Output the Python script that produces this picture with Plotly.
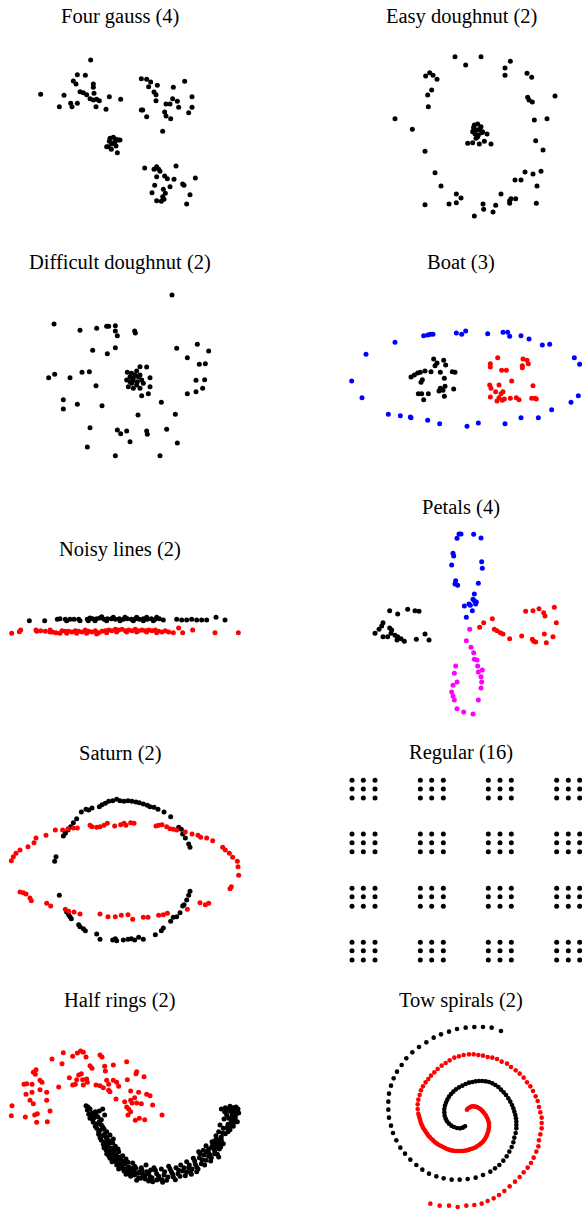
import plotly.graph_objects as go

W, H = 582, 1213

# ---------------- data (local panel units) ----------------
four_gauss = [
    (272,180),(232,224),(256,226),(220,243),(228,252),(280,252),(280,262),(122,283),(192,286),(240,275),
    (250,278),(260,284),(282,280),(270,296),(280,300),(290,298),(298,302),(328,290),(362,298),(178,320),
    (212,310),(216,320),(232,310),(288,320),(318,328),
    (424,236),(440,238),(452,246),(446,260),(472,256),(554,244),(520,262),(462,276),(468,284),(468,302),
    (576,290),(518,296),(532,304),(498,312),(510,312),(536,322),(576,322),(424,330),(428,330),(440,350),
    (494,336),(498,348),(512,356),(566,338),(488,394),
    (330,415),(340,412),(345,425),(335,432),(325,440),(348,438),(356,420),(360,420),(320,440),(352,458),
    (334,448),(342,428),(328,424),(348,418),
    (434,504),(462,508),(470,500),(476,508),(480,514),(528,498),(470,530),(494,528),(502,536),(522,538),
    (586,534),(464,556),(510,560),(548,552),(552,556),(456,578),(490,568),(496,580),(488,590),(470,602),
    (484,604),(492,598),(570,584),(560,612),
]

easy_doughnut = [
    (492,170),(570,170),(524,195),(658,184),(642,204),(642,226),(708,220),(722,232),(404,228),(416,218),
    (426,226),(438,238),(422,270),(410,285),(792,288),(710,292),(714,300),(724,306),(412,320),(312,356),
    (364,388),(730,360),(768,356),(402,454),(734,422),(756,450),(432,518),(702,516),(726,522),(750,514),
    (672,540),(690,540),(450,558),(738,558),(496,582),(510,594),(496,608),(474,612),(402,614),(630,582),
    (656,602),(660,596),(674,596),(656,610),(576,612),(614,616),(578,628),(606,636),(550,648),(736,610),
    (550,375),(560,372),(570,380),(548,390),(558,390),(566,388),(575,395),(552,402),(562,405),(588,402),
    (530,430),(545,428),(565,432),(580,424),(600,432),(555,415),(548,382),(572,398),(545,395),(560,410),
]

difficult_doughnut = [
    (516,150),(162,237),(240,256),(290,250),(320,244),(326,244),(346,242),(346,258),(352,272),(404,258),
    (406,264),(278,316),(322,326),(346,308),(530,310),(592,298),(626,318),(562,338),(598,358),(616,356),
    (146,398),(164,388),(210,398),(246,382),(268,380),(288,422),(588,406),(614,404),(562,446),(588,440),
    (608,430),(190,464),(190,492),(232,478),(306,482),(484,472),(414,510),(526,508),(270,548),(352,555),
    (362,566),(380,558),(440,558),(442,568),(500,553),(390,590),(262,606),(532,594),(346,632),(480,632),
    (382,382),(395,385),(410,378),(420,365),(440,366),(390,395),(400,400),(415,395),(425,405),(450,398),
    (380,405),(395,415),(410,420),(430,415),(450,425),(385,425),(400,430),(420,430),(425,452),(445,446),
    (405,390),(398,408),(412,410),(390,410),(420,390),
]

boat_blue = [
    (312,292),(225,328),(182,408),(213,458),(398,272),(410,270),(418,268),(426,268),(496,264),(512,268),
    (524,258),(590,266),(636,262),(650,262),(656,274),(690,272),(714,282),(754,300),(776,298),(850,338),
    (866,358),(862,452),(840,472),(782,494),(742,518),(690,518),(642,536),(562,534),(528,544),(446,536),
    (410,526),(360,518),(358,516),(328,512),(292,508),
]
boat_black = [
    (428,342),(458,346),(438,354),(432,362),(464,360),(420,380),(402,378),(360,396),(370,390),(380,384),
    (388,382),(394,404),(390,412),(448,382),(460,400),(484,380),(492,382),(382,446),(392,446),(412,446),
    (398,464),(444,438),(448,430),(462,424),(456,436),(460,454),(488,432),
]
boat_red = [
    (620,338),(598,356),(598,366),(696,342),(708,346),(712,356),(694,362),(694,368),(632,376),(646,376),
    (662,408),(596,420),(600,430),(624,420),(614,440),(630,446),(636,440),(624,458),(634,466),(640,462),
    (598,456),(618,468),(658,460),(676,458),(684,464),(726,422),(722,460),(732,460),(736,462),
]

noisy_black = [
    (88,272),(134,272),(172,268),(180,266),(196,268),(210,268),(222,268),(236,268),(262,268),(270,264),
    (278,266),(290,266),(300,264),(312,268),(322,266),(334,266),(346,268),(358,266),(370,268),(382,266),
    (394,268),(406,266),(418,268),(430,266),(442,268),(454,266),(466,268),(478,266),(490,270),(530,268),
    (545,270),(560,270),(575,268),(590,270),(605,270),(620,270),(648,262),(675,270),
    (265,272),(285,272),(305,260),(340,262),(375,262),(410,262),(440,262),(470,262),(200,272),(240,272),
    (320,272),(360,272),(400,272),(430,272),(460,272),
]
noisy_red = [
    (35,310),(58,305),(62,300),(108,300),(122,302),(136,304),(150,306),(158,306),(168,308),(186,302),
    (196,304),(206,304),(216,306),(226,302),(236,304),(246,306),(256,300),(266,304),(276,306),(286,302),
    (296,308),(306,304),(316,302),(326,300),(336,302),(346,298),(356,300),(366,298),(376,302),(386,300),
    (396,302),(406,298),(416,302),(426,300),(436,302),(446,300),(456,302),(466,300),(476,304),(486,306),
    (496,302),(506,306),(520,308),(536,294),(548,308),(578,300),(645,308),(715,308),
    (200,310),(230,310),(260,310),(290,312),(320,308),(350,306),(380,306),(410,306),(440,306),(470,308),
    (150,300),(180,310),(110,304),
]

petals_blue = [
    (498,145),(504,132),(510,132),(548,133),(570,144),(486,190),(488,198),(482,225),(572,215),(574,235),
    (494,272),(492,282),(500,286),(562,280),(550,312),(546,328),(550,332),(534,342),(554,342),(520,348),
    (538,346),(544,362),(526,382),(556,336),
]
petals_black = [
    (296,362),(320,372),(350,358),(372,362),(384,364),(276,398),(272,408),(264,418),(252,430),(296,414),
    (300,430),(312,436),(276,440),(290,440),(318,450),(330,446),(340,454),(376,448),(402,432),(414,450),
    (302,420),(320,440),
]
petals_red = [
    (704,364),(726,362),(744,356),(758,368),(762,378),(790,352),(796,398),(604,386),(578,398),(566,412),
    (610,418),(618,422),(628,428),(636,432),(656,446),(692,438),(724,448),(728,454),(734,456),(760,432),
    (786,440),(766,458),
]
petals_magenta = [
    (536,418),(526,452),(540,472),(548,488),(550,508),(558,510),(560,528),(562,546),(574,540),(570,560),
    (572,576),(570,594),(562,630),(494,528),(490,550),(498,576),(486,586),(482,606),(486,618),(490,630),
    (498,656),(518,666),(546,672),
]

saturn_black = [
    (190,378),(196,370),(204,360),(212,350),(220,338),(230,326),(244,306),(258,298),(266,300),(276,294),
    (298,290),(306,284),(316,280),(326,274),(338,272),(350,268),(360,272),(372,274),(384,272),(396,274),
    (408,276),(418,278),(430,282),(442,286),(450,290),(462,292),(474,298),(492,306),(512,320),(536,352),
    (544,358),(548,372),(556,384),(566,402),(570,412),
    (168,440),(164,454),(178,556),
    (570,544),(566,556),(560,570),(552,584),(548,588),
    (200,606),(206,614),(210,620),(214,626),(236,644),(240,650),(250,656),(256,662),(290,672),(300,688),
    (338,690),(346,686),(350,692),(370,690),(384,688),(394,686),(404,690),(416,682),(430,688),(466,674),
    (484,662),(490,654),(512,634),(520,622),(530,620),(540,608),
]
saturn_red = [
    (166,360),(188,360),(204,356),(220,354),(232,354),(270,346),(276,350),(290,352),(300,350),(312,346),
    (322,340),(344,348),(362,344),(372,340),(378,346),(392,338),(402,340),(468,348),(476,346),(486,344),
    (500,350),(510,356),(520,358),(530,360),(556,366),(576,372),(594,376),(602,382),(620,384),(638,392),
    (668,412),(676,420),(688,430),(698,442),(712,454),(714,470),(716,496),(694,530),(690,536),
    (138,376),(108,384),(102,398),(84,410),(60,420),(48,430),(40,440),(34,452),
    (60,546),(70,548),(78,552),(90,564),(94,572),(140,580),(152,588),(196,598),(206,604),(222,606),
    (240,612),(300,612),(324,620),(346,620),(364,616),(384,614),(398,628),(430,622),(444,622),(476,616),
    (490,614),(502,610),(562,598),(600,578),(616,584),(626,580),
]

regular_cols = [183, 217, 252, 388, 422, 457, 592, 627, 661, 797, 832, 866]
regular_rows = [211, 237, 264, 372, 398, 425, 535, 560, 589, 697, 722, 750]

half_rings_red = [
    (156,222),(190,203),(218,214),(232,204),(242,198),(250,202),(258,216),(300,210),(306,216),(186,236),
    (314,244),(340,240),(380,230),(108,254),(100,262),(106,268),(270,242),(276,250),(316,258),(410,260),
    (408,266),(432,275),(208,278),(236,270),(244,266),(230,284),(248,284),(260,282),(262,292),(226,298),
    (250,300),(80,296),(72,298),(120,286),(126,292),(176,306),(218,300),(288,300),(300,302),(310,308),
    (320,286),(326,298),(340,286),(350,292),(356,304),(382,284),(326,316),(330,320),(78,328),(96,322),
    (120,314),(140,322),(392,318),(416,322),(440,328),(450,332),(90,346),(100,356),(140,346),(348,342),
    (374,350),(396,354),(410,354),(424,356),(380,366),(386,372),(392,380),(458,360),(36,362),(150,378),
    (34,392),(76,396),(104,390),(112,386),(110,412),(142,410),(384,390),(406,406),(418,400),(434,404),
    (486,390),(392,346),(404,338),(96,298),
]
half_rings_black = [
    (258,362),(262,375),(270,372),(266,388),(276,384),(286,380),(298,378),(308,372),(270,400),(282,398),
    (294,396),(304,404),(314,390),(280,412),(292,416),(304,420),(290,430),(300,436),(312,432),(320,440),
    (296,448),(306,452),(318,456),(330,450),(304,466),(316,470),(328,468),(340,462),
    (312,488),(322,482),(334,490),(346,484),(320,506),(332,502),(344,508),(356,500),(368,512),(330,520),
    (342,524),(354,520),(366,528),(378,522),(350,540),(362,544),(374,538),(386,546),(398,534),(372,558),
    (384,562),(396,556),(408,550),(420,560),(392,574),(404,570),(416,578),(428,568),
    (436,582),(440,560),(450,575),(458,590),(462,548),(470,566),(478,582),(484,552),(492,570),(500,586),
    (506,544),(514,560),(520,576),(528,548),(534,566),(542,540),(548,558),(556,572),(438,540),(424,548),
    (452,555),(470,585),(488,592),
    (560,530),(566,548),(572,560),(580,520),(586,538),(594,552),(600,506),(606,524),(614,540),(620,500),
    (626,514),(632,528),(640,490),(644,506),(656,516),(650,474),(636,470),(618,482),
    (648,452),(656,440),(664,456),(670,430),(676,446),(684,418),(690,434),(694,410),(700,424),(706,398),
    (712,410),(660,420),(672,402),(680,390),(688,378),(696,390),(704,376),(714,372),(664,372),(676,368),
    (690,364),(700,368),(708,366),(686,400),(698,382),(670,476),(658,492),(646,466),(626,492),(610,496),
    (596,500),(654,464),
    (264,366),(274,392),(288,388),(278,404),(298,410),(286,424),(308,426),(296,440),(314,446),(300,458),
    (322,462),(310,478),(326,476),(338,474),(318,494),(330,496),(342,496),(354,492),(326,512),(338,514),
    (350,512),(362,516),(336,530),(348,530),(360,532),(372,530),(384,532),(356,552),(368,550),(380,552),
    (392,550),(404,544),(378,568),(390,566),(402,562),(414,564),(426,556),(410,586),(422,580),(434,572),
    (446,566),(446,588),(456,578),(466,556),(476,574),(486,584),(494,560),(504,576),(510,552),(518,568),
    (526,584),(536,556),(540,574),(552,548),(560,562),(568,540),(576,552),(584,528),(590,546),(598,518),
    (604,536),(612,510),(618,526),(626,504),(634,518),(636,484),(644,498),(650,486),(652,508),(660,478),
    (664,466),(668,444),(680,428),(684,440),(692,422),(696,402),(704,412),(708,388),(716,384),(674,380),
    (684,372),(694,372),(662,486),(640,476),(630,510),(574,568),(590,560),
]

spiral_black = [
    (630,138),(602,128),(576,126),(550,126),(524,128),(498,132),(474,140),(450,148),(428,158),(406,172),
    (384,186),(364,202),(346,220),(332,240),(318,260),(308,280),(300,302),(294,326),(292,350),(292,374),
    (294,398),(300,422),(306,444),(316,466),(328,488),(342,506),(358,524),(376,540),(394,554),(414,566),
    (436,574),(458,580),(482,584),(506,584),(530,582),(554,578),(576,570),(598,560),(612,550),(625,540),
    (637,527),(647,514),(655,500),(662,486),(667,472),(670,458),(674,444),
    (676,430),(676,420),(676,410),(675,400),(673,390),(670,380),(667,370),(663,360),(658,350),(652,340),
    (645,330),(638,322),(630,314),(622,306),(613,300),(604,295),(594,291),(584,289),(574,288),(564,288),
    (554,289),(544,291),(534,293),(524,297),(514,302),(504,307),(495,313),(487,320),(480,327),(474,335),
    (469,344),(465,353),(462,362),(460,372),(460,382),(461,392),(464,401),(468,409),(474,416),(481,422),
    (489,426),(498,429),(507,430),(515,428),(522,424),
]
spiral_red = [
    (528,374),(533,369),(538,366),(543,364),(548,364),(553,365),(558,366),(563,369),(568,372),(572,376),
    (576,380),(580,385),(584,390),(587,396),(590,402),(592,408),(594,414),(594,420),(594,426),(593,432),
    (592,438),(590,444),(588,450),(585,456),(582,462),(578,467),(574,472),(569,476),(564,480),(558,484),
    (552,488),(546,490),(540,492),(534,494),(528,496),(522,497),(516,498),(510,498),(504,498),(498,498),
    (492,498),(486,497),(480,496),(474,494),(468,492),(462,489),(456,486),(450,483),(444,480),(438,476),
    (432,472),(427,467),(422,462),(417,457),(412,452),(408,446),(404,440),(400,434),(396,428),(393,421),
    (390,414),(388,407),(386,400),(384,393),(382,386),(380,372),(380,358),(382,344),(386,330),(390,316),
    (396,304),(404,292),(412,282),(420,272),(430,262),(440,252),(452,242),(464,234),(476,226),(490,218),
    (504,214),(518,210),(534,208),(548,208),(562,210),(576,212),(590,216),(604,218),(618,222),(632,230),
    (648,236),(660,246),(674,256),(686,266),(698,278),(708,292),(718,304),(726,318),(734,334),(740,348),
    (744,366),(748,382),(752,398),(752,414),(752,430),(748,448),(744,466),(742,484),(736,500),(728,518),
    (720,534),(710,548),(698,562),(686,576),(672,590),(656,604),(640,618),(624,630),(608,640),(590,648),
    (572,656),(550,660),(526,662),(500,666),(474,662),(446,662),(418,656),
]

# ---------------- panel layout: (title, crop box in page px, title y, series) ----------------
BLACK, RED, BLUE, MAGENTA = "#000000", "#ff0000", "#0000ff", "#ff00ff"

panels = [
    ("Four gauss (4)", (0, 0, 291, 230), 16, [(four_gauss, BLACK)]),
    ("Easy doughnut (2)", (291, 0, 291, 230), 16, [(easy_doughnut, BLACK)]),
    ("Difficult doughnut (2)", (0, 245, 291, 230), 262, [(difficult_doughnut, BLACK)]),
    ("Boat (3)", (291, 245, 291, 230), 262, [(boat_blue, BLUE), (boat_black, BLACK), (boat_red, RED)]),
    ("Noisy lines (2)", (0, 530, 291, 120), 550, [(noisy_black, BLACK), (noisy_red, RED)]),
    ("Petals (4)", (291, 490, 291, 230), 507,
     [(petals_blue, BLUE), (petals_black, BLACK), (petals_red, RED), (petals_magenta, MAGENTA)]),
    ("Saturn (2)", (0, 710, 291, 240), 753, [(saturn_black, BLACK), (saturn_red, RED)]),
    ("Regular (16)", (291, 710, 291, 260), 752,
     [([(c, r) for r in regular_rows for c in regular_cols], BLACK)]),
    ("Half rings (2)", (0, 985, 291, 228), 1000, [(half_rings_red, RED), (half_rings_black, BLACK)]),
    ("Tow spirals (2)", (291, 985, 291, 228), 1000, [(spiral_black, BLACK), (spiral_red, RED)]),
]

fig = go.Figure()
annotations = []
layout_axes = {}
for i, (title, (ox, oy, w, h), ty, series) in enumerate(panels, start=1):
    xa = "x" if i == 1 else f"x{i}"
    ya = "y" if i == 1 else f"y{i}"
    xkey = "xaxis" if i == 1 else f"xaxis{i}"
    ykey = "yaxis" if i == 1 else f"yaxis{i}"
    layout_axes[xkey] = dict(domain=[ox / W, (ox + w) / W], range=[0, 3 * w], visible=False,
                             anchor=ya, fixedrange=True)
    layout_axes[ykey] = dict(domain=[1 - (oy + h) / H, 1 - oy / H], range=[3 * h, 0], visible=False,
                             anchor=xa, fixedrange=True)
    size = 4.6 if "spirals" in title else 5
    for pts, col in series:
        fig.add_trace(go.Scatter(
            x=[p[0] for p in pts], y=[p[1] for p in pts], mode="markers",
            marker=dict(color=col, size=size, line=dict(width=0)),
            xaxis=xa, yaxis=ya, hoverinfo="skip", cliponaxis=False))
    annotations.append(dict(
        text=title, x=(120 if ox == 0 else 461) / W, y=1 - ty / H,
        xref="paper", yref="paper", xanchor="center", yanchor="middle", showarrow=False,
        font=dict(family="Liberation Serif", size=20.5, color="#000000")))

fig.update_layout(
    width=W, height=H, margin=dict(l=0, r=0, t=0, b=0),
    paper_bgcolor="white", plot_bgcolor="rgba(0,0,0,0)", showlegend=False,
    annotations=annotations, **layout_axes)

fig.write_html("out.html")
